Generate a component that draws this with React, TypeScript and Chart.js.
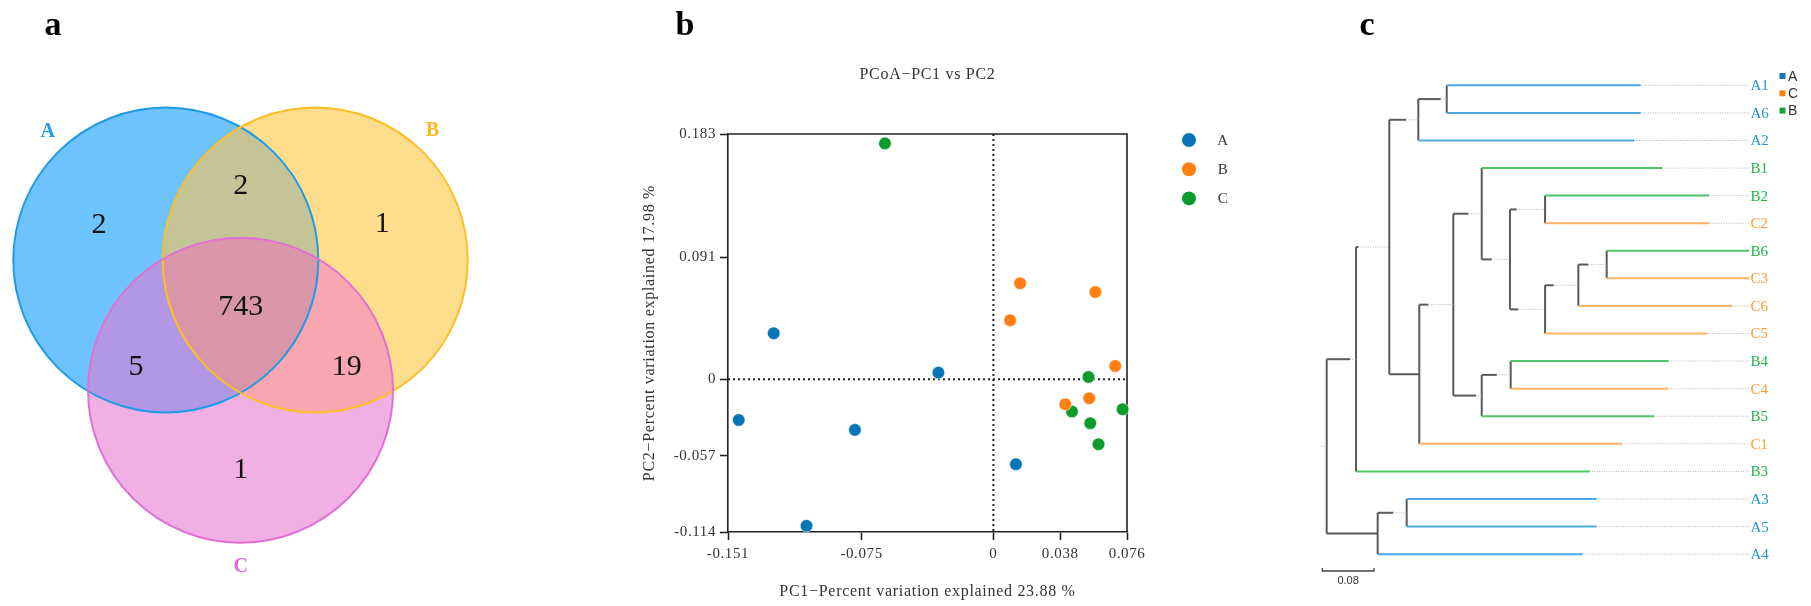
import React, { useEffect, useRef } from 'react';
import { Chart, registerables } from 'chart.js';
Chart.register(...registerables);

const SERIF = '"Liberation Serif", "Times New Roman", Times, serif';
const SANS = '"Liberation Sans", Arial, sans-serif';

// ---------------- Venn data ----------------
const vennSets = ['A', 'B', 'C'];
const vennRegions = ['A', 'AB', 'B', 'ABC', 'AC', 'BC', 'C'];
const vennCounts = [2, 2, 1, 743, 5, 19, 1];

// ---------------- PCoA data ----------------
const pcoaGroups = ['A', 'B', 'C'];
const pc1A = [-0.125, -0.0313, -0.1449, -0.0788, 0.0128, -0.1063];
const pc2A = [0.0343, 0.0049, -0.0304, -0.0378, -0.0634, -0.1094];
const pc1B = [0.0152, 0.058, 0.0095, 0.0693, 0.0545, 0.0409];
const pc2B = [0.0716, 0.0651, 0.044, 0.0099, -0.0142, -0.0187];
const pc1C = [-0.0617, 0.0541, 0.0447, 0.0735, 0.0551, 0.0598];
const pc2C = [0.176, 0.0017, -0.0241, -0.0224, -0.0328, -0.0485];
const pc1Ticks = [-0.151, -0.075, 0, 0.038, 0.076];
const pc1TickLabels = ['-0.151', '-0.075', '0', '0.038', '0.076'];
const pc2Ticks = [-0.114, -0.057, 0, 0.091, 0.183];
const pc2TickLabels = ['-0.114', '-0.057', '0', '0.091', '0.183'];
const pc1Explained = '23.88';
const pc2Explained = '17.98';

// ---------------- Tree data ----------------
const treeLeaves = ['A1', 'A6', 'A2', 'B1', 'B2', 'C2', 'B6', 'C3', 'C6', 'C5', 'B4', 'C4', 'B5', 'C1', 'B3', 'A3', 'A5', 'A4'];
const leafBranchEnd = [0.486, 0.486, 0.476, 0.519, 0.592, 0.592, 0.654, 0.654, 0.628, 0.589, 0.529, 0.529, 0.507, 0.457, 0.407, 0.418, 0.418, 0.396];
const treeNodes = ['root', 'n1', 'n2', 'n3', 'n4', 'n5', 'n6', 'n7', 'n8', 'n9', 'n10', 'n11', 'n12', 'n13', 'n14', 'n15', 'n16'];
const treeNodeChildren = [
  ['n1', 'n15'], ['n2', 'B3'], ['n3', 'n5'], ['n4', 'A2'], ['A1', 'A6'], ['n6', 'C1'], ['n7', 'n13'],
  ['B1', 'n8'], ['n9', 'n10'], ['B2', 'C2'], ['n11', 'C5'], ['n12', 'C6'], ['B6', 'C3'], ['n14', 'B5'],
  ['B4', 'C4'], ['n16', 'A4'], ['A3', 'A5'],
];
const treeNodeDepth = [0, 0.0454, 0.0969, 0.1418, 0.1858, 0.1433, 0.196, 0.24, 0.2837, 0.338, 0.338, 0.3895, 0.4334, 0.24, 0.2848, 0.0789, 0.1238];
const treeNodeSolidEnd = [-0.008, 0.036, 0.049, 0.1228, 0.1765, 0.1433, 0.1573, 0.2192, 0.2554, 0.2941, 0.2966, 0.3514, 0.405, 0.2311, 0.2632, 0.0789, 0.1031];
const treeLegendGroups = ['A', 'C', 'B'];
const scaleBarValue = 0.08;

// ---------------- styles / layout ----------------
const W = 1811;
const H = 606;
const VENN_W = 520;
const VENN_CENTERS: Record<string, [number, number]> = { A: [0, 0], B: [0.98, 0], C: [0.49, 0.854] };
const VENN_FILL: Record<string, string> = {
  A: '#6ec3fc', B: '#fedd8d', C: '#f0b0e4', AB: '#c4c496', AC: '#b298e4', BC: '#f8a6b0', ABC: '#d896a8',
};
const VENN_STROKE: Record<string, string> = { A: '#1f9be8', B: '#ffbf24', C: '#e070d4' };
const VENN_SETLABEL_COLOR: Record<string, string> = { A: '#1f9be8', B: '#ffb81c', C: '#e066d6' };
const VENN_REGION_POS: Record<string, [number, number]> = {
  A: [-0.438, -0.241], AB: [0.491, -0.496], B: [1.42, -0.247], ABC: [0.491, 0.295],
  AC: [-0.195, 0.689], BC: [1.186, 0.689], C: [0.491, 1.366],
};
const VENN_SETLABEL_POS: Record<string, [number, number]> = { A: [-0.774, -0.852], B: [1.748, -0.857], C: [0.491, 2.0] };

const PCOA_LEFT = 520;
const PCOA_W = 780;
const PCOA_COLORS = ['#0a74b8', '#ff8012', '#0c9c2c'];

const TREE_LEFT = 1300;
const TREE_W = W - TREE_LEFT;
const LEAF_COLORS: Record<string, string> = { A: '#4ba9e0', B: '#4fc46e', C: '#ffb264' };
const LABEL_COLORS: Record<string, string> = { A: '#2393d4', B: '#22b24c', C: '#ff9a30' };
const LEGEND_SQ_COLORS: Record<string, string> = { A: '#1a75bb', C: '#ff7f0e', B: '#1aa03a' };
const TREE_LABEL_X = 0.656;

function baseOptions(extra: any) {
  return {
    responsive: false,
    animation: false,
    devicePixelRatio: 1,
    events: [],
    plugins: { legend: { display: false }, tooltip: { enabled: false }, title: { display: false } },
    ...extra,
  };
}

function panelLetter(ctx: CanvasRenderingContext2D, t: string, x: number) {
  ctx.save();
  (ctx as any).letterSpacing = '0px';
  ctx.font = `bold 34px ${SERIF}`;
  ctx.fillStyle = '#000';
  ctx.textAlign = 'center';
  ctx.textBaseline = 'alphabetic';
  ctx.fillText(t, x, 35);
  ctx.restore();
}

// ---------------- Venn ----------------
function VennChart() {
  const ref = useRef<HTMLCanvasElement>(null);
  useEffect(() => {
    const unit = 152.5;
    const cxA = 165.8;
    const cyA = 260;
    const plugin = {
      id: 'venn',
      afterDraw(chart: any) {
        const ctx: CanvasRenderingContext2D = chart.ctx;
        const xs = chart.scales.x;
        const ys = chart.scales.y;
        const px = (u: number) => xs.getPixelForValue(u);
        const py = (v: number) => ys.getPixelForValue(v);
        const r = Math.abs(px(1) - px(0));
        const path = (k: string) => {
          const [u, v] = VENN_CENTERS[k];
          ctx.beginPath();
          ctx.arc(px(u), py(v), r, 0, Math.PI * 2);
        };
        ctx.save();
        vennSets.forEach((k) => { path(k); ctx.fillStyle = VENN_FILL[k]; ctx.fill(); });
        const clipFill = (clips: string[], fillSet: string, color: string) => {
          ctx.save();
          clips.forEach((c) => { path(c); ctx.clip(); });
          path(fillSet);
          ctx.fillStyle = color;
          ctx.fill();
          ctx.restore();
        };
        clipFill(['A'], 'B', VENN_FILL.AB);
        clipFill(['A'], 'C', VENN_FILL.AC);
        clipFill(['B'], 'C', VENN_FILL.BC);
        clipFill(['A', 'B'], 'C', VENN_FILL.ABC);
        vennSets.forEach((k) => { path(k); ctx.strokeStyle = VENN_STROKE[k]; ctx.lineWidth = 2; ctx.stroke(); });
        ctx.fillStyle = '#111';
        ctx.textAlign = 'center';
        ctx.textBaseline = 'alphabetic';
        ctx.font = `30px ${SERIF}`;
        vennRegions.forEach((k, i) => {
          const [u, v] = VENN_REGION_POS[k];
          ctx.fillText(String(vennCounts[i]), px(u), py(v) + 10);
        });
        ctx.font = `bold 20px ${SERIF}`;
        vennSets.forEach((k) => {
          const [u, v] = VENN_SETLABEL_POS[k];
          ctx.fillStyle = VENN_SETLABEL_COLOR[k];
          ctx.fillText(k, px(u), py(v) + 7);
        });
        ctx.restore();
        panelLetter(ctx, 'a', 53);
      },
    };
    const chart = new Chart(ref.current!, {
      type: 'scatter',
      data: { datasets: [] },
      options: baseOptions({
        layout: { padding: 0 },
        scales: {
          x: { type: 'linear', display: false, min: -cxA / unit, max: (VENN_W - cxA) / unit },
          y: { type: 'linear', display: false, reverse: true, min: -cyA / unit, max: (H - cyA) / unit },
        },
      }),
      plugins: [plugin],
    } as any);
    return () => chart.destroy();
  }, []);
  return <canvas ref={ref} width={VENN_W} height={H} style={{ position: 'absolute', left: 0, top: 0, width: VENN_W, height: H }} />;
}

// ---------------- PCoA ----------------
function PcoaChart() {
  const ref = useRef<HTMLCanvasElement>(null);
  useEffect(() => {
    const xs = [pc1A, pc1B, pc1C];
    const ys = [pc2A, pc2B, pc2C];
    const datasets = pcoaGroups.map((g, gi) => ({
      label: g,
      data: xs[gi].map((x, i) => ({ x, y: ys[gi][i] })),
      backgroundColor: PCOA_COLORS[gi],
      borderColor: 'rgba(255,255,255,0.7)',
      borderWidth: 0.8,
      pointRadius: 6.3,
      clip: false,
    }));
    const tickFont = { family: SERIF, size: 15 };
    const plugin = {
      id: 'pcoaDecor',
      beforeDraw(chart: any) {
        (chart.ctx as any).letterSpacing = '0.6px';
      },
      beforeDatasetsDraw(chart: any) {
        const ctx: CanvasRenderingContext2D = chart.ctx;
        const a = chart.chartArea;
        const x0 = chart.scales.x.getPixelForValue(0);
        const y0 = chart.scales.y.getPixelForValue(0);
        ctx.save();
        ctx.strokeStyle = '#222';
        ctx.lineWidth = 2;
        ctx.setLineDash([2, 3]);
        ctx.beginPath();
        ctx.moveTo(x0, a.top);
        ctx.lineTo(x0, a.bottom);
        ctx.moveTo(a.left, y0);
        ctx.lineTo(a.right, y0);
        ctx.stroke();
        ctx.setLineDash([]);
        ctx.lineWidth = 1.6;
        ctx.beginPath();
        ctx.moveTo(a.left, a.top);
        ctx.lineTo(a.right, a.top);
        ctx.lineTo(a.right, a.bottom);
        ctx.stroke();
        ctx.restore();
      },
      afterDraw(chart: any) {
        const ctx: CanvasRenderingContext2D = chart.ctx;
        const a = chart.chartArea;
        const cx = (a.left + a.right) / 2;
        const cy = (a.top + a.bottom) / 2;
        ctx.save();
        (ctx as any).letterSpacing = '0.7px';
        ctx.fillStyle = '#333';
        ctx.textAlign = 'center';
        ctx.textBaseline = 'middle';
        ctx.font = `16px ${SERIF}`;
        ctx.fillText('PCoA\u2212PC1 vs PC2', cx, 75);
        ctx.fillText(`PC1\u2212Percent variation explained ${pc1Explained} %`, cx, 592);
        ctx.save();
        ctx.translate(a.left - 78, cy);
        ctx.rotate(-Math.PI / 2);
        ctx.fillText(`PC2\u2212Percent variation explained ${pc2Explained} %`, 0, 0);
        ctx.restore();
        // legend
        ctx.font = `15px ${SERIF}`;
        pcoaGroups.forEach((g, i) => {
          const y = a.top + 6 + i * 29.2;
          ctx.beginPath();
          ctx.arc(a.right + 62, y, 7, 0, Math.PI * 2);
          ctx.fillStyle = PCOA_COLORS[i];
          ctx.fill();
          ctx.fillStyle = '#333';
          ctx.fillText(g, a.right + 96, y + 1);
        });
        ctx.restore();
        panelLetter(ctx, 'b', 685 - PCOA_LEFT);
      },
    };
    const axisCommon = {
      type: 'linear',
      grid: { drawOnChartArea: false, drawTicks: true, tickLength: 8, tickColor: '#222', tickWidth: 1.6 },
      border: { display: true, color: '#222', width: 1.6 },
    };
    const chart = new Chart(ref.current!, {
      type: 'scatter',
      data: { datasets },
      options: baseOptions({
        layout: { padding: { left: 148, right: 173, top: 134, bottom: 44 }, autoPadding: false },
        scales: {
          x: {
            ...axisCommon,
            min: pc1Ticks[0],
            max: pc1Ticks[pc1Ticks.length - 1],
            afterBuildTicks: (s: any) => { s.ticks = pc1Ticks.map((v) => ({ value: v })); },
            afterFit: (s: any) => { s.height = 30; },
            ticks: {
              autoSkip: false, maxRotation: 0, padding: 5, color: '#333', font: tickFont,
              callback: (_v: any, i: number) => pc1TickLabels[i],
            },
          },
          y: {
            ...axisCommon,
            min: pc2Ticks[0],
            max: pc2Ticks[pc2Ticks.length - 1],
            afterBuildTicks: (s: any) => { s.ticks = pc2Ticks.map((v) => ({ value: v })); },
            afterFit: (s: any) => { s.width = 60; },
            ticks: {
              autoSkip: false, padding: 4, color: '#333', font: tickFont,
              callback: (_v: any, i: number) => pc2TickLabels[i],
            },
          },
        },
      }),
      plugins: [plugin],
    } as any);
    return () => chart.destroy();
  }, []);
  return <canvas ref={ref} width={PCOA_W} height={H} style={{ position: 'absolute', left: PCOA_LEFT, top: 0, width: PCOA_W, height: H }} />;
}

// ---------------- Tree ----------------
function TreeChart() {
  const ref = useRef<HTMLCanvasElement>(null);
  useEffect(() => {
    const leafIdx: Record<string, number> = {};
    treeLeaves.forEach((l, i) => { leafIdx[l] = i; });
    const nodeIdx: Record<string, number> = {};
    treeNodes.forEach((n, i) => { nodeIdx[n] = i; });
    const yOf = (name: string): number => {
      if (name in leafIdx) return leafIdx[name];
      const ch = treeNodeChildren[nodeIdx[name]];
      return (yOf(ch[0]) + yOf(ch[1])) / 2;
    };
    const segs: { x0: number; x1: number; y0: number; y1: number; kind: string }[] = [];
    segs.push({ x0: treeNodeSolidEnd[0], x1: treeNodeDepth[0], y0: yOf('root'), y1: yOf('root'), kind: 'dot' });
    treeNodes.forEach((n, k) => {
      const x = treeNodeDepth[k];
      const ch = treeNodeChildren[k];
      segs.push({ x0: x, x1: x, y0: yOf(ch[0]), y1: yOf(ch[1]), kind: 'dark' });
      ch.forEach((c) => {
        const y = yOf(c);
        if (c in leafIdx) {
          const i = leafIdx[c];
          const end = leafBranchEnd[i];
          segs.push({ x0: x, x1: end, y0: y, y1: y, kind: c[0] });
          if (end < TREE_LABEL_X - 0.004) segs.push({ x0: end, x1: TREE_LABEL_X - 0.002, y0: y, y1: y, kind: 'dot' });
        } else {
          const j = nodeIdx[c];
          const se = treeNodeSolidEnd[j];
          if (se > x) segs.push({ x0: x, x1: se, y0: y, y1: y, kind: 'dark' });
          if (treeNodeDepth[j] > se) segs.push({ x0: Math.max(se, x), x1: treeNodeDepth[j], y0: y, y1: y, kind: 'dot' });
        }
      });
    });
    const style = (kind: string) => {
      if (kind === 'dark') return { borderColor: '#5a5a5a', borderWidth: 2, borderDash: [] };
      if (kind === 'dot') return { borderColor: '#b5b5b5', borderWidth: 1, borderDash: [1, 1.4] };
      return { borderColor: LEAF_COLORS[kind], borderWidth: 2, borderDash: [] };
    };
    const order = (k: string) => (k === 'dot' ? 0 : k === 'dark' ? 2 : 1);
    segs.sort((a, b) => order(a.kind) - order(b.kind));
    const datasets = segs.map((s) => ({
      data: [{ x: s.x0, y: s.y0 }, { x: s.x1, y: s.y1 }],
      showLine: true,
      pointRadius: 0,
      fill: false,
      borderCapStyle: 'butt',
      ...style(s.kind),
    }));
    const plugin = {
      id: 'treeDecor',
      afterDraw(chart: any) {
        const ctx: CanvasRenderingContext2D = chart.ctx;
        const xs = chart.scales.x;
        const ys = chart.scales.y;
        ctx.save();
        ctx.font = `15px ${SERIF}`;
        ctx.textAlign = 'left';
        ctx.textBaseline = 'middle';
        treeLeaves.forEach((l, i) => {
          ctx.fillStyle = LABEL_COLORS[l[0]];
          ctx.fillText(l, xs.getPixelForValue(TREE_LABEL_X), ys.getPixelForValue(i) + 1);
        });
        ctx.font = `14px ${SANS}`;
        treeLegendGroups.forEach((g, i) => {
          const y = 76 + i * 17.3;
          ctx.fillStyle = LEGEND_SQ_COLORS[g];
          ctx.fillRect(479.5, y - 3, 6, 6);
          ctx.fillStyle = '#333';
          ctx.fillText(g, 488, y + 1);
        });
        const sbY = ys.getPixelForValue(17.61);
        const sx0 = xs.getPixelForValue(-0.0068);
        const sx1 = xs.getPixelForValue(-0.0068 + scaleBarValue);
        ctx.strokeStyle = '#444';
        ctx.lineWidth = 1.3;
        ctx.beginPath();
        ctx.moveTo(sx0, sbY - 3);
        ctx.lineTo(sx0, sbY);
        ctx.lineTo(sx1, sbY);
        ctx.lineTo(sx1, sbY - 3);
        ctx.stroke();
        ctx.fillStyle = '#333';
        ctx.font = `11px ${SANS}`;
        ctx.textAlign = 'center';
        ctx.fillText(String(scaleBarValue), (sx0 + sx1) / 2, sbY + 10);
        ctx.restore();
        panelLetter(ctx, 'c', 1367 - TREE_LEFT);
      },
    };
    const pxPerUnit = 646;
    const rootPx = 1326.7 - TREE_LEFT;
    const leaf0 = 85.3;
    const leafStep = 27.58;
    const chart = new Chart(ref.current!, {
      type: 'scatter',
      data: { datasets },
      options: baseOptions({
        layout: { padding: 0 },
        scales: {
          x: { type: 'linear', display: false, min: -rootPx / pxPerUnit, max: (TREE_W - rootPx) / pxPerUnit },
          y: { type: 'linear', display: false, reverse: true, min: -leaf0 / leafStep, max: (H - leaf0) / leafStep },
        },
      }),
      plugins: [plugin],
    } as any);
    return () => chart.destroy();
  }, []);
  return <canvas ref={ref} width={TREE_W} height={H} style={{ position: 'absolute', left: TREE_LEFT, top: 0, width: TREE_W, height: H }} />;
}

export default function App() {
  return (
    <div style={{ position: 'absolute', left: 0, top: 0, width: W, height: H, background: '#fff', overflow: 'hidden' }}>
      <VennChart />
      <PcoaChart />
      <TreeChart />
    </div>
  );
}
